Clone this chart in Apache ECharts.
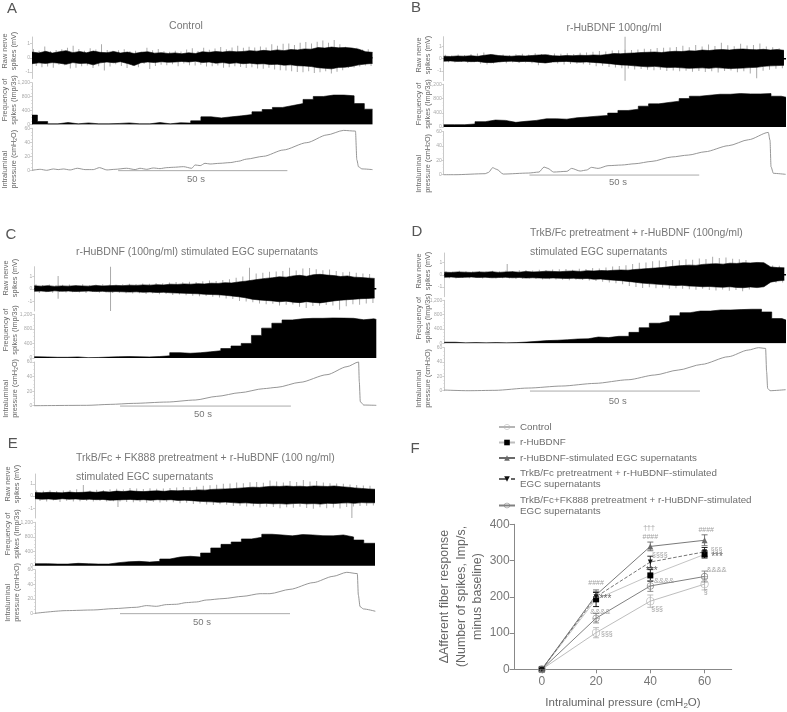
<!DOCTYPE html>
<html><head><meta charset="utf-8">
<script src="https://cdn.jsdelivr.net/npm/echarts@6/dist/echarts.min.js"></script>
<style>html,body{margin:0;padding:0;background:#fff}#c{width:787px;height:712px}</style>
</head><body><div id="c"></div>
<script>
// ---------- Frequency of spikes (imp/3s), 3 s bins ----------
const freqA=[270,85,20,55,20,45,20,20,30,45,20,20,55,20,50,40,105,220,190,220,250,285,365,430,490,545,600,720,805,845,845,825,600,440];
const freqB=[65,65,85,150,195,185,130,160,185,230,230,220,260,280,305,325,390,465,500,585,650,690,725,800,865,893,920,920,940,930,930,940,865,837];
const freqC=[35,30,20,20,30,10,15,25,35,40,35,30,40,60,147,130,145,170,200,260,330,400,620,820,955,1045,1075,1090,1090,1100,1095,1090,1050,1075,1060];
const freqD=[30,12,20,12,20,12,20,35,55,75,85,100,120,125,175,160,195,195,305,435,560,615,770,855,900,900,930,930,940,950,950,875,690,650];
const freqE=[55,45,45,65,55,45,45,85,110,120,100,120,185,240,260,240,350,490,590,655,740,785,870,850,825,860,850,830,825,850,795,710,620];
// ---------- Intraluminal pressure (cmH2O): [seconds, value] ----------
const pressA=[[0,0],[2.4,1.4],[4.3,0],[6.3,1.9],[7.7,1],[9.2,1.9],[11.2,.5],[13.3,2.9],[15.6,1],[18,1],[19.8,3.8],[22,.5],[24.4,1.4],[27.8,2.9],[30.3,1],[31.7,2.9],[33.7,1.4],[35.6,3.3],[37.6,2.4],[39.6,3.8],[41.5,4.3],[44.5,5.2],[46.9,2.9],[47.9,7.6],[49.4,6.7],[50.8,10],[52.3,9],[55.2,10],[58.2,11],[60.6,12.9],[63,16],[68,20],[73.8,29],[80.7,39.5],[86.6,50.5],[91.5,57],[95,56],[95.4,15],[95.9,5],[96.9,2],[100,1]];
const pressB=[[0,0],[3.3,0],[12.2,1.4],[13.2,3.3],[14.4,9.8],[15.6,7.4],[17.5,.9],[24.9,2.3],[28,3.7],[29.5,10.7],[30.6,8.8],[32.3,3.7],[36.2,4.7],[37.6,8.8],[40.1,5.1],[42,6.5],[43.4,10.2],[45.4,8.8],[48.3,12.6],[52.3,13.5],[56.2,15.3],[61.2,18.6],[67,24.7],[71.9,27.4],[76.8,32],[83.7,40.5],[89.6,48.8],[95.4,59],[95.9,48],[96.2,11],[96.9,1.9],[100.5,.5]];
const pressC=[[0,0],[15.4,.5],[22.3,1.8],[29.1,3.2],[38.9,5],[47.3,7.8],[53.6,12.8],[60.5,17.9],[67.4,23.4],[71.3,25.2],[78.1,32.1],[86,42.6],[91.9,53.6],[95.3,60],[95.5,33],[95.8,5.5],[96.8,.9],[100.5,.5]];
const pressD=[[0,.9],[7,0],[14.9,.5],[24.7,3.7],[34.5,6.5],[44.3,10.2],[54.1,15.3],[61.9,21.9],[68.8,28.8],[75.7,36.7],[83.5,47.4],[89.4,56.7],[92.4,60],[94.5,59],[94.8,26.5],[95.1,3.3],[95.8,0],[100.4,1.4]];
const pressE=[[0,0],[9.3,3.7],[17.2,4.6],[23,6.4],[29.9,8.3],[32.8,10.6],[35.7,9.6],[38.7,12],[41.6,12.4],[44.5,14.7],[47.5,15.6],[50.4,18.3],[55.3,20.2],[61.2,23.4],[66.2,27],[69.1,27],[75,33],[81.8,42.2],[87.7,50.9],[91.7,56.4],[94.8,54.6],[95.1,25.2],[95.6,9.2],[96.6,6],[100.1,2.8]];
// ---------- Raw nerve spikes (mV): dense band, one sample per 2 s ----------
const bandHiA=[.40,.34,.45,.33,.42,.50,.36,.44,.35,.47,.38,.36,.44,.33,.40,.30,.38,.42,.32,.36,.30,.34,.28,.35,.30,.42,.38,.44,.40,.46,.42,.44,.50,.46,.52,.48,.55,.50,.58,.55,.62,.60,.72,.68,.75,.70,.72,.68,.60,.42,.38];
const bandLoA=[-.42,-.36,-.40,-.34,-.38,-.46,-.34,-.40,-.38,-.50,-.36,-.30,-.35,-.28,-.40,-.55,-.35,-.30,-.34,-.28,-.32,-.30,-.26,-.30,-.24,-.34,-.30,-.38,-.34,-.40,-.36,-.42,-.38,-.44,-.42,-.48,-.46,-.52,-.50,-.56,-.58,-.62,-.70,-.74,-.78,-.68,-.66,-.60,-.50,-.44,-.40];
const bandHiB=[.20,.18,.22,.20,.24,.19,.28,.34,.26,.22,.20,.24,.22,.26,.30,.32,.24,.22,.26,.24,.28,.26,.30,.28,.34,.42,.40,.44,.46,.50,.52,.54,.50,.56,.60,.58,.64,.62,.70,.66,.72,.74,.70,.76,.78,.74,.72,.76,.70,.74,.68];
const bandLoB=[-.20,-.18,-.22,-.20,-.24,-.22,-.30,-.32,-.26,-.22,-.20,-.24,-.22,-.24,-.30,-.34,-.26,-.24,-.22,-.26,-.28,-.26,-.30,-.34,-.38,-.44,-.50,-.52,-.58,-.62,-.66,-.62,-.68,-.72,-.70,-.74,-.78,-.76,-.74,-.78,-.72,-.76,-.80,-.78,-.76,-.72,-.70,-.62,-.58,-.56,-.54];
const bandHiC=[.25,.22,.26,.20,.24,.22,.26,.24,.22,.28,.24,.26,.28,.26,.30,.28,.32,.30,.34,.32,.38,.36,.40,.38,.42,.40,.46,.44,.50,.48,.56,.62,.70,.78,.85,.90,.98,.95,1.05,1.10,1.02,1.15,1.18,1.12,1.08,1.00,1.05,.95,.92,.88,.85];
const bandLoC=[-.20,-.18,-.22,-.16,-.20,-.18,-.22,-.20,-.18,-.22,-.20,-.24,-.22,-.24,-.26,-.24,-.28,-.26,-.30,-.28,-.32,-.34,-.36,-.38,-.40,-.44,-.46,-.48,-.52,-.58,-.64,-.72,-.84,-.90,-.94,-.98,-1.05,-1.00,-1.08,-1.12,-1.04,-1.10,-1.14,-1.06,-.98,-.92,-.88,-.84,-.80,-.78,-.75];
const bandHiD=[.22,.20,.24,.22,.20,.24,.22,.26,.20,.24,.26,.22,.28,.24,.26,.30,.28,.26,.30,.32,.28,.34,.32,.36,.34,.38,.40,.38,.44,.48,.52,.56,.60,.66,.72,.76,.80,.78,.86,.90,.92,.88,.96,.94,1.00,.98,1.02,1.00,.65,.60,.58];
const bandLoD=[-.20,-.18,-.22,-.20,-.18,-.22,-.20,-.24,-.22,-.20,-.24,-.22,-.26,-.24,-.26,-.28,-.26,-.28,-.30,-.28,-.32,-.30,-.36,-.34,-.40,-.44,-.48,-.54,-.60,-.68,-.72,-.76,-.80,-.84,-.88,-.86,-.92,-.94,-.98,-.96,-1.00,-1.02,-.98,-1.04,-1.06,-1.00,-1.05,-.98,-.60,-.50,-.45];
const bandHiE=[.28,.26,.30,.28,.26,.32,.28,.30,.34,.30,.36,.32,.40,.36,.42,.38,.36,.40,.42,.38,.44,.42,.46,.44,.50,.48,.54,.56,.58,.60,.64,.68,.72,.70,.76,.80,.78,.82,.78,.80,.76,.82,.80,.78,.82,.76,.72,.66,.62,.58,.55];
const bandLoE=[-.22,-.26,-.24,-.28,-.22,-.26,-.24,-.28,-.26,-.30,-.28,-.34,-.32,-.30,-.28,-.32,-.30,-.34,-.30,-.32,-.30,-.36,-.34,-.38,-.42,-.46,-.48,-.52,-.50,-.54,-.58,-.56,-.60,-.62,-.60,-.64,-.62,-.66,-.62,-.60,-.64,-.62,-.66,-.60,-.62,-.58,-.56,-.60,-.54,-.56,-.55];
// spikes standing out of the band
const spikesA=[.62,-.58,.5,-.66,.8,-.62,.48,-.7,.55,-.5,.6,-.52,.7,-.75,.85,-.7,.62,-.6,.5,-.55,.66,-.72,.58,-.6,.95,-.9,.54,-.62,.5,-.46,.52,-.58,.6,-.72,.48,-.56,.5,-.66,.42,-.44,.7,-.8,.52,-.58,.62,-.5,.46,-.52,.42,-.46,.5,-.6,.44,-.4,.58,-.52,.66,-.55,.48,-.5,.7,-.62,.56,-.6,.65,-.55,.75,-.7,.6,-.66,.72,-.6,.85,-.65,.7,-.72,.78,-.66,.72,-.75,.8,-.78,.72,-.7,.95,-.82,.85,-.88,.98,-.9,1.0,-.95,.9,-1.0,1.05,-1.02,1.1,-.95,1.0,-1.08,1.12,-1.02,1.22,-.95,1.05,-1.1,1.25,-.98,.95,-.88,.78,-.72,.66,-.68,.7,-.62,.58,-.55,.6,-.58];
const spikesB=[.32,-.28,.26,-.3,.34,-.26,.3,-.34,.38,-.28,.42,-.4,.5,-.46,.36,-.38,.3,-.28,.34,-.36,.28,-.3,.36,-.34,.4,-.3,.34,-.36,.44,-.52,.38,-.36,.36,-.3,.42,-.38,.4,-.46,.44,-.42,.38,-.4,.48,-.44,.5,-.5,.56,-.62,.62,-.58,.58,-.68,.66,-.72,.68,-.78,.72,-.8,.7,-.88,.74,-.84,.8,-.9,.78,-.94,.86,-.9,.88,-1.0,.9,-.96,.95,-1.02,1.05,-.98,.92,-1.06,1.1,-1.0,.98,-1.08,1.15,-1.02,1.02,-1.12,1.3,-1.0,1.08,-.96,1.0,-1.1,1.2,-1.02,1.06,-1.2,1.1,-1.58,1.22,-.98,.98,-.9,.92,-.82,.85,-.78];
const spikesC=[.38,-.34,.32,-.28,.36,-.32,.3,-.26,.34,-.3,.36,-.28,.32,-.3,.38,-.34,.3,-.26,.34,-.32,.38,-.3,.36,-.34,.34,-.32,.38,-.36,.42,-.38,.4,-.36,.44,-.42,.42,-.38,.48,-.44,.46,-.42,.52,-.5,.56,-.46,.54,-.52,.58,-.56,.56,-.6,.62,-.58,.68,-.64,.64,-.7,.72,-.78,.78,-.82,.9,-.98,1.0,-1.02,1.72,-1.08,1.25,-1.2,1.3,-1.25,1.38,-1.22,1.42,-1.35,1.45,-1.3,1.72,-1.28,1.5,-1.45,1.65,-1.55,1.7,-1.4,1.6,-1.38,1.52,-1.32,1.58,-1.35,1.45,-1.7,1.35,-1.42,1.38,-1.25,1.3,-1.3,1.25,-1.2,1.2,-1.15];
const spikesD=[.3,-.28,.26,-.3,.34,-.24,.3,-.28,.28,-.26,.32,-.3,.28,-.26,.34,-.3,.3,-.28,.36,-.3,.32,-.34,.38,-.32,.4,-.3,.36,-.34,.42,-.38,.4,-.36,.44,-.38,.46,-.4,.48,-.44,.42,-.4,.5,-.42,.48,-.46,.56,-.5,.52,-.56,.6,-.62,.68,-.7,.72,-.78,.8,-.92,.9,-1.0,1.0,-1.08,1.02,-1.02,1.12,-1.1,1.18,-1.05,1.15,-1.15,1.22,-1.1,1.2,-1.15,1.28,-1.18,1.25,-1.22,1.34,-1.15,1.3,-1.25,1.5,-1.28,1.38,-1.2,1.42,-1.3,1.32,-1.25,1.28,-1.35,1.22,-1.2,.9,-.85,.82,-.75,.78,-.68,.76,-.65,.74,-.62];
const spikesE=[.45,-.4,.42,-.44,.48,-.36,.4,-.5,.44,-.38,.5,-.46,.55,-.42,.9,-.4,.46,-.44,.52,-.4,.5,-.46,.56,-.42,.6,-.46,.54,-.5,.66,-.52,.62,-.48,.58,-.56,.64,-.5,.6,-.54,.62,-.48,.66,-.52,.7,-.6,.74,-.56,.72,-.66,.76,-.62,.84,-.7,.88,-.74,.92,-.68,1.0,-.72,1.02,-.82,1.1,-.8,1.05,-.86,1.12,-.84,1.15,-.95,1.08,-.88,1.26,-.9,1.18,-1.0,1.1,-.92,1.22,-.96,1.15,-.88,1.3,-.98,1.18,-1.05,1.22,-.92,1.1,-1.0,1.05,-.95,1.02,-1.02,1.0,-.9,.95,-.85,.9,-.82,.86,-.8,.84,-.78];
const tallSpikesB=[[53.3,1.8],[53.3,-1.8]];
const tallSpikesC=[[7,1.05],[7,-.8],[22.4,1.8],[22.4,-1.8]];
const tallSpikesD=[[18.5,.9]];
const tallSpikesE=[[93.2,-1.8],[24.4,-.9]];
// ---------- Panel F ----------
const pressureLevels=[0,20,40,60];
const controlMean=[0,101,188,235];   const controlErr=[0,14,17,16];
const bdnfMean=[0,193,259,317];      const bdnfErr=[0,20,16,10];
const egcMean=[0,205,339,356];       const egcErr=[0,14,12,15];
const trkbMean=[0,200,296,324];      const trkbErr=[0,12,16,12];
const fkMean=[0,141,230,256];        const fkErr=[0,13,15,15];
const fNotes=[[39.5,390,'†††'],[40,365,'####'],[43.5,315,'§§§§'],[40.5,270,'***'],[45,243,'&&&&'],[42.5,166,'§§§'],
[60.4,405,'†††'],[60.6,385,'####'],[64.4,329,'§§§'],[64.6,310,'***'],[64.4,275,'&&&&'],[60.4,213,'§'],
[20,237,'####'],[23.5,194,'***'],[21.5,158,'&&&&'],[24,98,'§§§']];

const axisGrey='#bbb',txt='#777';
const ringPath='path://M0,-10A10,10 0 1,1 0,10A10,10 0 1,1 0,-10Z M0,-8.4A8.4,8.4 0 1,0 0,8.4A8.4,8.4 0 1,0 0,-8.4Z';
const crossRingPath='path://M0,-10A10,10 0 1,1 0,10A10,10 0 1,1 0,-10Z M0,-8.2A8.2,8.2 0 1,0 0,8.2A8.2,8.2 0 1,0 0,-8.2Z M-9,-0.7L9,-0.7L9,0.7L-9,0.7Z';
const panels=[
 {k:'A',left:32,w:340.5,xMax:100,r:[37,78.5],f:[82.7,124.5],p:[128.3,170.3],rr:1.46,freq:freqA,first:1.6,press:pressA,hi:bandHiA,lo:bandLoA,sp:spikesA,tall:[],
  bar:[25.3,75],lx:9.5,ly:[51,100,188.5],lb:[12,9],fifty:[196,179],title:[['Control',186,26,'center']]},
 {k:'B',left:443.7,w:342.3,xMax:100.6,r:[36.7,80.7],f:[84.3,127],p:[131.7,174.7],rr:1.78,freq:freqB,first:3.2,press:pressB,hi:bandHiB,lo:bandLoB,sp:spikesB,tall:tallSpikesB,
  bar:[25.2,75.1],lx:423,ly:[55,104,192.7],lb:[416,8],fifty:[618,182.7],title:[['r-HuBDNF 100ng/ml',614,28,'center']]},
 {k:'C',left:34.3,w:342,xMax:100.5,r:[266.7,311],f:[314.3,358],p:[362,405.7],rr:1.8,freq:freqC,first:.8,press:pressC,hi:bandHiC,lo:bandLoC,sp:spikesC,tall:tallSpikesC,
  bar:[25.2,75.4],lx:10.5,ly:[278,330,417.7],lb:[11,235],fifty:[203,414],title:[['r-HuBDNF (100ng/ml) stimulated EGC supernatants',197,251.7,'center']]},
 {k:'D',left:444.3,w:341.7,xMax:100.5,r:[253,296.7],f:[300.3,343.3],p:[347.7,390.7],rr:1.8,freq:freqD,first:3.3,press:pressD,hi:bandHiD,lo:bandLoD,sp:spikesD,tall:tallSpikesD,
  bar:[25.2,75.2],lx:423,ly:[271,318.3,407.7],lb:[417,232],fifty:[617.7,401.7],title:[['TrkB/Fc pretreatment + r-HuBDNF (100ng/ml)',530,233,'left'],['stimulated EGC supernatants',530,251.7,'left']]},
 {k:'E',left:35,w:340,xMax:100,r:[474,518],f:[522.3,565.7],p:[569.7,613.3],rr:1.8,freq:freqE,first:3.7,press:pressE,hi:bandHiE,lo:bandLoE,sp:spikesE,tall:tallSpikesE,
  bar:[25,75],lx:12,ly:[484,534,621.7],lb:[12.7,444],fifty:[202,622],title:[['TrkB/Fc + FK888 pretreatment + r-HuBDNF (100 ng/ml)',76,458.3,'left'],['stimulated EGC supernatants',76,476.7,'left']]}
];

const grid=[],xAxis=[],yAxis=[],series=[],graphic=[];
function addGrid(left,w,top,bottom,xMax,yCfg){
  grid.push({left:left,top:top,width:w,height:bottom-top,containLabel:false});
  xAxis.push({type:'value',gridIndex:grid.length-1,min:0,max:xMax,show:false});
  yAxis.push(Object.assign({type:'value',gridIndex:grid.length-1,splitLine:{show:false},
    axisLine:{show:true,onZero:false,lineStyle:{color:axisGrey,width:.8}},
    axisTick:{show:true,length:2,lineStyle:{color:axisGrey,width:.7}},
    axisLabel:{fontSize:5,color:'#aaa',margin:2,fontFamily:'Liberation Sans'}},yCfg));
  return grid.length-1;
}
function stepPoints(values,firstWidth,xMax){
  const pts=[];let t=0;
  values.forEach((v,i)=>{pts.push([t,v]);t=i===0?firstWidth:t+3;});
  pts.push([xMax,values[values.length-1]]);
  return pts;
}
function txtEl(text,x,y,size,align,extra){
  return {type:'text',x:x,y:y,style:Object.assign({text:text,fontSize:size,fontFamily:'Liberation Sans',fill:txt,align:align||'center',verticalAlign:'middle'},extra||{})};
}
function rotText(text,x,y,size,rich,lh,align){
  return {type:'text',x:x,y:y,rotation:Math.PI/2,style:{text:text,fontSize:size,fontFamily:'Liberation Sans',fill:'#666',align:align||'center',verticalAlign:'middle',rich:rich,lineHeight:lh||size+1}};
}
const subRich={a:{fontSize:7.3,fill:'#666',fontFamily:'Liberation Sans',lineHeight:9},s:{fontSize:5,fill:'#666',fontFamily:'Liberation Sans',padding:[3,0,0,0],lineHeight:9}};

panels.forEach(p=>{
  let g=addGrid(p.left,p.w,p.r[0],p.r[1],p.xMax,{min:-p.rr,max:p.rr,
    axisLabel:{fontSize:5,color:'#aaa',margin:2,customValues:[-1,0,1]},axisTick:{length:2,lineStyle:{color:axisGrey,width:.7},customValues:[-1,0,1]}});
  const spikeData=p.sp.map((v,i)=>[(i+.5)*100/p.sp.length,v]).concat(p.tall);
  series.push({type:'bar',xAxisIndex:g,yAxisIndex:g,data:spikeData,barWidth:.8,itemStyle:{color:'#aaa'},silent:true,animation:false,z:1});
  [p.hi,p.lo].forEach(a=>series.push({type:'line',xAxisIndex:g,yAxisIndex:g,data:a.map((v,i)=>[i*2,v]),symbol:'none',
     lineStyle:{color:'#000',width:.6},areaStyle:{color:'#000',opacity:1,origin:0},silent:true,animation:false,z:2}));
  series.push({type:'line',xAxisIndex:g,yAxisIndex:g,data:[[0,0],[p.xMax,0]],symbol:'none',lineStyle:{color:'#000',width:1.5},silent:true,animation:false,z:3});
  g=addGrid(p.left,p.w,p.f[0],p.f[1],p.xMax,{min:0,max:1200,interval:400,minorTick:{show:true,splitNumber:4,length:1,lineStyle:{color:'#ccc',width:.6}}});
  series.push({type:'line',step:'end',xAxisIndex:g,yAxisIndex:g,data:stepPoints(p.freq,p.first,p.xMax),symbol:'none',
     lineStyle:{color:'#000',width:.6},areaStyle:{color:'#000',opacity:1},silent:true,animation:false});
  g=addGrid(p.left,p.w,p.p[0],p.p[1],p.xMax,{min:0,max:60,interval:20,minorTick:{show:true,splitNumber:4,length:1,lineStyle:{color:'#ccc',width:.6}}});
  series.push({type:'line',xAxisIndex:g,yAxisIndex:g,data:p.press,symbol:'none',smooth:.25,smoothMonotone:'x',clip:false,
     lineStyle:{color:'#8a8a8a',width:.9},silent:true,animation:false});
  series.push({type:'line',xAxisIndex:g,yAxisIndex:g,data:[[p.bar[0],-.5],[p.bar[1],-.5]],symbol:'none',clip:false,
     lineStyle:{color:'#aaa',width:1},silent:true,animation:false});
  graphic.push(txtEl(p.k,p.lb[0],p.lb[1],15,'center',{fill:'#555'}));
  p.title.forEach(t=>graphic.push(txtEl(t[0],t[1],t[2],10.5,t[3])));
  graphic.push(txtEl('50 s',p.fifty[0],p.fifty[1],9.5));
  graphic.push(rotText('Raw nerve\nspikes (mV)',p.lx,p.ly[0],7.3,undefined,9));
  graphic.push(rotText('Frequency of\nspikes (Imp/3s)',p.lx,p.ly[1],7.3,undefined,9));
  graphic.push(rotText('{a|Intraluminal}\n{a|pressure (cmH}{s|2}{a|O)}',p.lx,p.ly[2],7.3,subRich,9,'left'));
});

// Panel F
const fg=grid.length;
grid.push({left:514.7,top:524.3,width:217,height:145});
xAxis.push({type:'value',gridIndex:fg,min:-10,max:70,splitLine:{show:false},
  axisLine:{show:true,onZero:false,lineStyle:{color:'#888'}},
  axisTick:{show:true,length:4,lineStyle:{color:'#888'},customValues:pressureLevels},
  axisLabel:{fontSize:12,color:'#777',margin:6,fontFamily:'Liberation Sans',customValues:pressureLevels}});
yAxis.push({type:'value',gridIndex:fg,min:0,max:400,interval:100,splitLine:{show:false},
  axisLine:{show:true,onZero:false,lineStyle:{color:'#888'}},axisTick:{show:true,length:5,lineStyle:{color:'#888'}},
  axisLabel:{fontSize:12,color:'#777',margin:5,fontFamily:'Liberation Sans'}});

const fSeries=[
 {name:'Control',m:controlMean,e:controlErr,c:'#b5b5b5',sym:ringPath,size:8,dash:'solid',lw:.9},
 {name:'r-HuBDNF',m:bdnfMean,e:bdnfErr,c:'#000',lc:'#bdbdbd',ec:'#222',sym:'rect',size:6,dash:'solid',lw:.9},
 {name:'r-HuBDNF-stimulated EGC supernatants',m:egcMean,e:egcErr,c:'#6a6a6a',sym:'triangle',size:6,dash:'solid',lw:.9},
 {name:'TrkB/Fc pretreatment + r-HuBDNF-stimulated\nEGC supernatants',m:trkbMean,e:trkbErr,c:'#111',lc:'#666',sym:'triangle',rot:180,size:5,dash:'dashed',lw:.9},
 {name:'TrkB/Fc+FK888 pretreatment + r-HuBDNF-stimulated\nEGC supernatants',m:fkMean,e:fkErr,c:'#808080',sym:crossRingPath,size:7,dash:'solid',lw:1}
];
fSeries.forEach(s=>{
  const rows=pressureLevels.map((x,i)=>[x,s.m[i]-s.e[i],s.m[i]+s.e[i]]);
  series.push({type:'custom',xAxisIndex:fg,yAxisIndex:fg,data:rows,silent:true,animation:false,z:3,
    renderItem:(params,api)=>{
      const x=api.value(0),a=api.coord([x,api.value(1)]),b=api.coord([x,api.value(2)]);
      const st={stroke:s.c,lineWidth:.9,fill:null};
      return {type:'group',children:[
        {type:'line',shape:{x1:a[0],y1:a[1],x2:b[0],y2:b[1]},style:st},
        {type:'line',shape:{x1:a[0]-3,y1:a[1],x2:a[0]+3,y2:a[1]},style:st},
        {type:'line',shape:{x1:b[0]-3,y1:b[1],x2:b[0]+3,y2:b[1]},style:st}]};
    }});
  series.push({name:s.name,type:'line',xAxisIndex:fg,yAxisIndex:fg,data:pressureLevels.map((x,i)=>[x,s.m[i]]),
    symbol:s.sym,symbolSize:s.size,symbolRotate:s.rot||0,showAllSymbol:true,
    itemStyle:{color:s.c,borderWidth:0},lineStyle:{color:s.lc||s.c,width:s.lw,type:s.dash},silent:true,animation:false,z:4});
});
const noteStyle={'***':{fontSize:10,color:'#444'},'&&&&':{fontSize:7.5,color:'#888'}};
series.push({type:'scatter',xAxisIndex:fg,yAxisIndex:fg,symbolSize:0,silent:true,animation:false,z:5,
  data:fNotes.map(n=>({name:n[2],value:[n[0],n[1]],label:noteStyle[n[2]]||{}})),
  label:{show:true,position:'inside',formatter:'{b}',fontSize:7,color:'#888',fontFamily:'Liberation Sans'}});

graphic.push(txtEl('F',415,449,15,'center',{fill:'#555'}));
graphic.push(rotText('ΔAfferent fiber response\n(Number of spikes, Imp/s,\nminus baseline)',461.5,596.5,12.4,undefined,16.5));
graphic.push({type:'text',x:623,y:703,style:{text:'{a|Intraluminal pressure (cmH}{s|2}{a|O)}',align:'center',verticalAlign:'middle',fill:txt,
  rich:{a:{fontSize:11.5,fill:'#666',fontFamily:'Liberation Sans'},s:{fontSize:8,fill:'#666',fontFamily:'Liberation Sans',padding:[5,0,0,0]}}}});

const chart=echarts.init(document.getElementById('c'),null,{renderer:'canvas'});
chart.setOption({
  backgroundColor:'#fff',animation:false,grid,xAxis,yAxis,series,
  legend:{left:493,top:416.5,orient:'vertical',itemWidth:16,itemHeight:7,itemGap:4.5,selectedMode:false,
    data:fSeries.map(s=>s.name),textStyle:{fontSize:9.8,color:'#6e6e6e',lineHeight:11,fontFamily:'Liberation Sans'}},
  graphic:{elements:graphic}
});
</script></body></html>
